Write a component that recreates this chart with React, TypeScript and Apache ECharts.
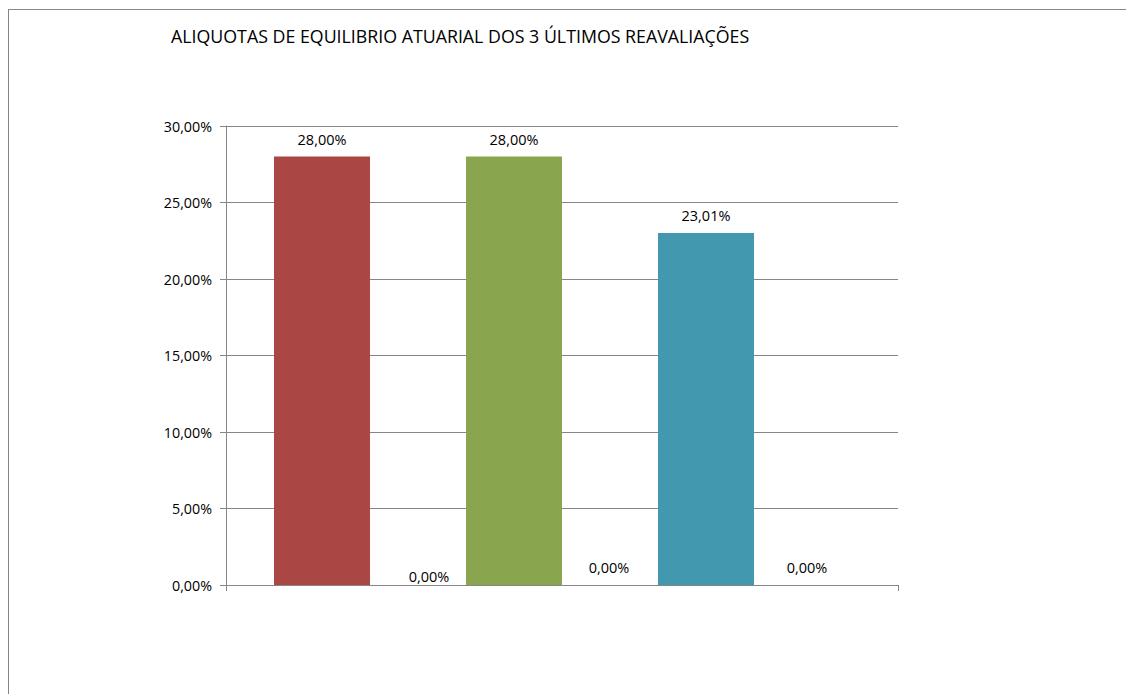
import React, { useEffect, useRef } from "react";
import * as echarts from "echarts";

const titleText = "ALIQUOTAS DE EQUILIBRIO ATUARIAL DOS 3 ÚLTIMOS REAVALIAÇÕES";
const categories = [""];
const seriesNames = ["S1", "S2", "S3", "S4", "S5", "S6"];
const seriesValues = [28.0, 0.0, 28.0, 0.0, 23.01, 0.0];
const seriesColors = ["#AA4643", "#4572A7", "#89A54E", "#71588F", "#4198AF", "#DB843D"];
const labelOffsets: [number, number][] = [[0, 0], [11, 9], [0, 0], [-1, 0], [0, 0], [5, 0]];
const yMin = 0;
const yMax = 30;
const yInterval = 5;

const fmt = (v: number) => v.toFixed(2).replace(".", ",") + "%";
const FONT = "Open Sans";

export default function App() {
  const ref = useRef<HTMLDivElement>(null);
  useEffect(() => {
    if (!ref.current) return;
    const chart = echarts.init(ref.current, undefined, { renderer: "svg" });
    chart.setOption({
      animation: false,
      backgroundColor: "#ffffff",
      graphic: [
        {
          type: "text",
          left: 162,
          top: 17,
          style: { text: titleText, fontFamily: FONT, fontSize: 17.8, fill: "#000" },
        },
      ],
      grid: { left: 217, right: 236, top: 116, bottom: 110, containLabel: false },
      xAxis: {
        type: "category",
        data: categories,
        boundaryGap: true,
        axisLine: { show: true, lineStyle: { color: "#868686", width: 1 } },
        axisTick: { show: true, length: 6, lineStyle: { color: "#868686" } },
        axisLabel: { show: false },
        splitLine: { show: false },
      },
      yAxis: {
        type: "value",
        min: yMin,
        max: yMax,
        interval: yInterval,
        axisLine: { show: true, lineStyle: { color: "#868686", width: 1 } },
        axisTick: { show: true, length: 6, lineStyle: { color: "#868686" } },
        axisLabel: {
          margin: 14,
          fontFamily: FONT,
          fontSize: 14.3,
          color: "#000",
          formatter: (v: number) => fmt(v),
        },
        splitLine: { show: true, lineStyle: { color: "#868686", width: 1 } },
      },
      series: seriesNames.map((name, i) => ({
        name,
        type: "bar",
        data: [seriesValues[i]],
        barGap: "0%",
        barCategoryGap: "14.29%",
        itemStyle: { color: seriesColors[i] },
        label: {
          show: true,
          position: "top",
          distance: 10,
          offset: labelOffsets[i],
          fontFamily: FONT,
          fontSize: 14.5,
          color: "#000",
          formatter: (p: any) => fmt(p.value),
        },
      })),
    });
    return () => chart.dispose();
  }, []);
  return (
    <div
      style={{
        position: "relative",
        top: 1,
        width: 1126,
        height: 686,
        borderTop: "1px solid #868686",
        borderLeft: "1px solid #868686",
        boxSizing: "border-box",
        overflow: "hidden",
      }}
    >
      <div ref={ref} style={{ width: 1125, height: 685 }} />
    </div>
  );
}
